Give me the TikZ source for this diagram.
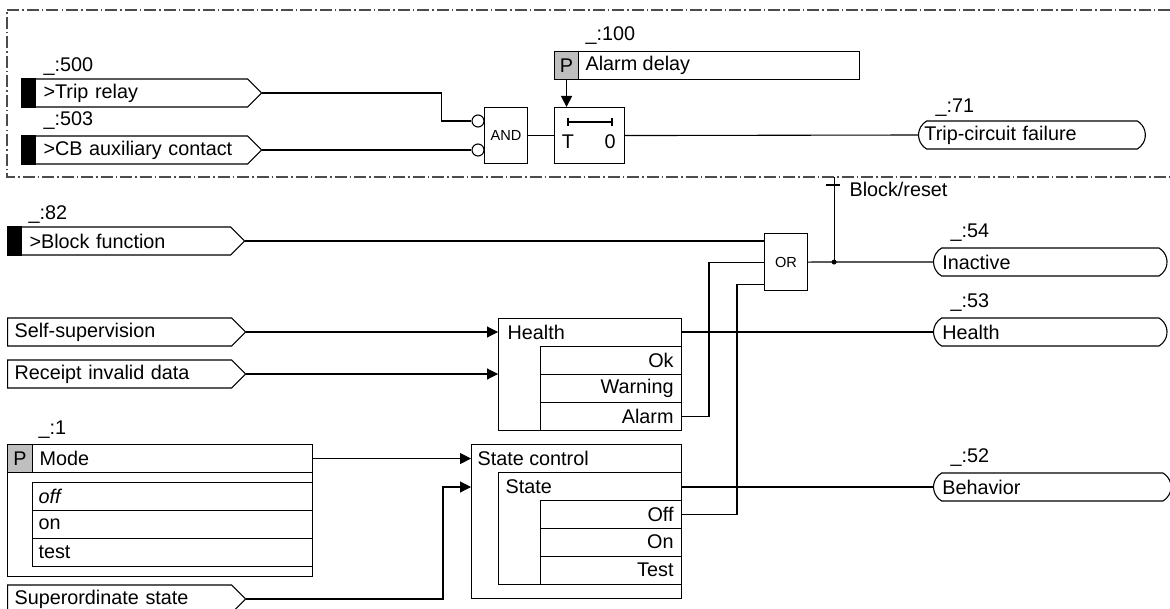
\documentclass[tikz,border=0pt]{standalone}
\usepackage{fontspec}
\setmainfont{Liberation Sans}
\usepackage{tikz}
\usetikzlibrary{arrows.meta, positioning, shapes.symbols, shapes.misc}
\usepackage{xcolor}

\tikzset{
    insig/.style={draw, signal, signal to=east, signal pointer angle=90, minimum height=14pt, inner ysep=0pt, anchor=west, align=left},
    binsig/.style={insig, inner xsep=7pt, execute at begin node=\hspace*{4pt}},
    outpill/.style={draw, rounded rectangle, rounded rectangle arc length=120, minimum height=14pt, inner ysep=0pt, anchor=west, align=left},
    num/.style={anchor=west, inner sep=0pt},
    cell/.style={draw, anchor=north west, minimum height=14pt, inner sep=0pt},
    pcell/.style={cell, fill=black!25, minimum width=12.5pt},
    row/.style={draw, anchor=north west, minimum height=14pt, inner xsep=4pt, inner ysep=0pt, text width=62.5pt, align=right},
    mrow/.style={draw, anchor=north west, minimum height=14pt, inner xsep=3pt, inner ysep=0pt, text width=134pt, align=left},
    gate/.style={draw, anchor=north west, minimum width=21.5pt, minimum height=28pt, inner sep=0pt, font=\fontsize{7.3}{8}\selectfont},
    neg/.style={draw, circle, minimum size=6pt, inner sep=0pt},
    jdot/.style={fill, circle, minimum size=2.5pt, inner sep=0pt},
    sig/.style={-{Triangle[length=5.5pt, width=5.5pt]}},
    frame/.style={black!70, dash pattern=on 6pt off 1.5pt on 0.75pt off 1.5pt}
}

\begin{document}
\begin{tikzpicture}[x=0.5pt, y=-0.5pt, line width=0.55pt, font=\fontsize{9.9}{11}\selectfont]
            \useasboundingbox (0,0) rectangle (1170,609);

            \draw[frame] (1170,10) -| (7,177) -- (1170,177);

            \node[num] (n500) at (43,67) {\_:500};
            \node[binsig, text width=99pt] (trip) at (21,93) {>Trip relay};
            \fill (trip.north west) rectangle ([xshift=7.5pt]trip.south west);
            \node[num] (n503) at (43,121) {\_:503};
            \node[binsig, text width=99pt] (cb) at (21,150) {>CB auxiliary contact};
            \fill (cb.north west) rectangle ([xshift=7.5pt]cb.south west);

            \node[gate] (and) at (484,107) {AND};
            \node[neg] (ng1) at (478,121) {};
            \node[neg] (ng2) at (478,150) {};

            \node[num] (n100) at (585,36) {\_:100};
            \node[cell, minimum width=152.5pt] (ad) at (554,51) {};
            \node[pcell, minimum width=12pt] (adp) at (554,51) {P};
            \node[num] (adt) at (585,65) {Alarm delay};

            \node[gate, minimum width=35pt] (tmr) at (554,107) {};
            \draw (568,122) -- (612,122);
            \draw (568,118) -- (568,126);
            \draw (612,118) -- (612,126);
            \node (tT) at (568,142) {T};
            \node (t0) at (610,142) {0};

            \node[num] (n71) at (935,108) {\_:71};
            \node[outpill, inner xsep=1.5pt, text width=107.5pt] (tcf) at (918,135) {Trip-circuit failure};

            \draw (trip.east) -| ([xshift=-15pt]ng1.west) -- (ng1.west);
            \draw (cb.east) -- (ng2.west);
            \draw (and.east) -- (tmr.west);
            \draw[sig] (adp.south) -- (adp.south |- tmr.north);
            \draw (tmr.east) -- (tcf.west);

            \node[num] (n82) at (28,215) {\_:82};
            \node[binsig, text width=97.5pt] (blk) at (7,241) {>Block function};
            \fill (blk.north west) rectangle ([xshift=7.5pt]blk.south west);
            \node[insig, inner xsep=3.5pt, text width=105pt] (self) at (7,332) {Self-supervision};
            \node[insig, inner xsep=3.5pt, text width=105pt] (rcpt) at (7,374) {Receipt invalid data};

            \node[gate, minimum height=28.5pt] (or) at (764,233) {OR};
            \node[jdot] (jn) at ([xshift=13pt]or.east) {};
            \draw (826,185) -- (840,185);
            \node[num] (brl) at (849,189) {Block/reset};

            \node[num] (n54) at (950,233) {\_:54};
            \node[outpill, inner xsep=3.5pt, text width=108pt] (inact) at (933,262) {Inactive};
            \node[num] (n53) at (950,303) {\_:53};
            \node[outpill, inner xsep=3.5pt, text width=108pt] (hlthp) at (933,332) {Health};
            \node[num] (n52) at (950,458) {\_:52};
            \node[outpill, inner xsep=3.5pt, text width=110pt] (behv) at (933,487) {Behavior};

            \node[cell, minimum width=91.5pt, minimum height=56pt] (hbox) at (498,318) {};
            \node[num] (htit) at (507,332) {Health};
            \node[row] (hok) at (540,346) {Ok};
            \node[row] (hwrn) at (540,374) {Warning};
            \node[row] (halm) at (540,402) {Alarm};

            \node[num] (n1) at (38,430) {\_:1};
            \node[cell, minimum width=152.5pt, minimum height=66pt] (mbox) at (7,444) {};
            \node[cell, minimum width=152.5pt] (mtit) at (7,444) {};
            \node[pcell] (mp) at (7,444) {P};
            \node[num] (mtxt) at (39,458) {Mode};
            \node[mrow] (moff) at (32,482) {\textit{off}};
            \node[mrow] (mon) at (32,510) {on};
            \node[mrow] (mtst) at (32,538) {test};
            \node[insig, inner xsep=3.5pt, text width=105pt] (supo) at (7,599) {Superordinate state};

            \node[cell, minimum width=105pt, minimum height=77pt] (sbox) at (471,444) {};
            \node[num] (stit) at (477,458) {State control};
            \node[cell, minimum width=91.5pt, minimum height=56pt] (sin) at (498,472) {};
            \node[num] (stt) at (505,487) {State};
            \node[row] (soff) at (540,499.5) {Off};
            \node[row] (son) at (540,527.5) {On};
            \node[row] (stst) at (540,555.5) {Test};

            \coordinate (sin1) at (stt -| sbox.west);
            \coordinate (or3) at ([yshift=3.5pt]or.south west);

            \draw (blk.east) -- (blk.east -| or.west);
            \draw (halm.east) -| ([xshift=-27.5pt]or.west) -- (or.west);
            \draw (soff.east) -| ([xshift=-13.5pt]or3) -- (or3);
            \draw (or.east) -- (inact.west);
            \draw (jn.center) -- ++(0,-85);

            \draw[sig] (self.east) -- (self.east -| hbox.west);
            \draw[sig] (rcpt.east) -- (rcpt.east -| hbox.west);
            \draw (hlthp.west -| hbox.east) -- (hlthp.west);

            \draw[sig] (mtit.east) -- (mtit.east -| sbox.west);
            \draw[sig] (supo.east) -| ([xshift=-14pt]sin1) -- (sin1);
            \draw (behv.west -| sin.east) -- (behv.west);
        \end{tikzpicture}
\end{document}
